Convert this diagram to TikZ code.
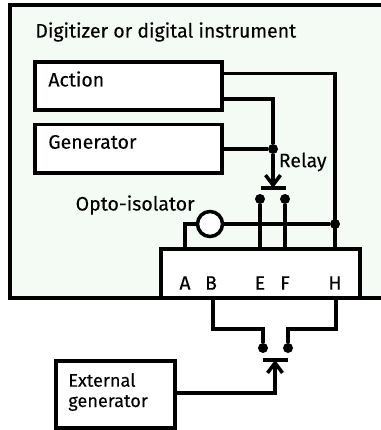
\documentclass[tikz,border=0pt]{standalone}
\usepackage{fontspec}
\setmainfont[FakeBold=0.15]{Fira Sans}
\usetikzlibrary{arrows.meta}
\definecolor{panelgreen}{rgb}{0.955,0.98,0.955}
\tikzset{
  wire/.style={line width=2pt},
  unit/.style={draw,line width=2pt,fill=white,inner sep=0pt},
  tag/.style={inner sep=0pt,font=\fontsize{11.1pt}{13pt}\selectfont},
  smalltag/.style={inner sep=0pt,font=\fontsize{10.3pt}{12pt}\selectfont},
  joint/.style={circle,fill=black,inner sep=0pt,minimum size=0.2cm}
}
\begin{document}
\begin{tikzpicture}[>={Straight Barb[length=0.2cm,width=0.3cm]}]
\useasboundingbox (0,0) rectangle (7.62,8.6);
% panel, open on the right
\fill[color=panelgreen] (0.2,2.64) rectangle (7.62,8.5);
\draw[wire] (7.62,8.5)--(0.2,8.5)--(0.2,2.64)--(7.62,2.64);
\node[tag,anchor=west] (title) at (0.7,7.96) {Digitizer or digital instrument};
% boxes
\node[unit,minimum width=3.74cm,minimum height=0.96cm] (action) at (2.57,6.88) {};
\node[unit,minimum width=3.74cm,minimum height=0.97cm] (generator) at (2.57,5.625) {};
\node[unit,minimum width=3.98cm,minimum height=0.98cm] (connector) at (5.21,3.13) {};
\node[unit,minimum width=2.38cm,minimum height=1.34cm] (external) at (2.31,0.71) {};
\node[tag,anchor=west] (actiontext) at (0.96,7.02) {Action};
\node[tag,anchor=west] (generatortext) at (0.96,5.76) {Generator};
\node[smalltag,anchor=west] (externaltext) at (1.36,1.0) {External};
\node[smalltag,anchor=west] (externaltextb) at (1.36,0.54) {generator};
\node[tag,anchor=west] (relaytext) at (5.57,5.36) {Relay};
\node[tag,anchor=east] (optotext) at (3.9,4.5) {Opto-isolator};
\node[tag] (pina) at (3.7,2.94) {A};
\node[tag] (pinb) at (4.22,2.94) {B};
\node[tag] (pine) at (5.2,2.94) {E};
\node[tag] (pinf) at (5.7,2.94) {F};
\node[tag] (pinh) at (6.7,2.94) {H};
% joints
\node[joint] (gendot) at (5.46,5.62) {};
\node[joint] (hdot) at (6.7,4.12) {};
\node[joint] (edot) at (5.2,4.62) {};
\node[joint] (fdot) at (5.7,4.62) {};
\node[joint] (bdot) at (5.26,1.64) {};
\node[joint] (cdot) at (5.76,1.64) {};
\node[circle,draw,line width=2pt,fill=white,inner sep=0pt,minimum size=0.5cm] (opto) at (4.2,4.12) {};
% free ends
\coordinate (actionouta) at (4.44,7.13);
\coordinate (actionoutb) at (4.44,6.62);
\coordinate (genout) at (4.44,5.62);
\coordinate (relaytop) at (5.46,6.62);
\coordinate (relayl) at (5.21,4.84);
\coordinate (relayr) at (5.71,4.84);
\coordinate (relaymid) at (5.46,4.84);
\coordinate (extl) at (5.26,1.4);
\coordinate (extr) at (5.76,1.4);
\coordinate (extmid) at (5.5,1.4);
\coordinate (extout) at (3.5,0.74);
\coordinate (hcorner) at (6.7,7.13);
\coordinate (ptopa) at (3.7,3.62);
\coordinate (ptope) at (5.2,3.62);
\coordinate (ptopf) at (5.7,3.62);
\coordinate (ptoph) at (6.7,3.62);
\coordinate (pbotb) at (4.26,2.64);
\coordinate (pboth) at (6.72,2.64);
\coordinate (bendb) at (4.26,2.02);
\coordinate (bendbb) at (5.26,2.02);
\coordinate (bendh) at (6.72,2.02);
\coordinate (bendhh) at (5.76,2.02);
\coordinate (bendx) at (5.5,0.74);
\coordinate (bendo) at (3.7,4.12);
% wires
\draw[wire] (actionouta)--(hcorner)--(ptoph);
\draw[wire] (actionoutb)--(relaytop)--(gendot);
\draw[wire] (genout)--(gendot);
\draw[wire,->] (gendot)--(relaymid);
\draw[wire] (relayl)--(relayr);
\draw[wire] (edot)--(ptope);
\draw[wire] (fdot)--(ptopf);
\draw[wire] (opto)--(hdot);
\draw[wire] (opto)--(bendo)--(ptopa);
\draw[wire] (pbotb)--(bendb)--(bendbb)--(bdot);
\draw[wire] (pboth)--(bendh)--(bendhh)--(cdot);
\draw[wire] (extl)--(extr);
\draw[wire,->] (extout)--(bendx)--(extmid);
\end{tikzpicture}
\end{document}
